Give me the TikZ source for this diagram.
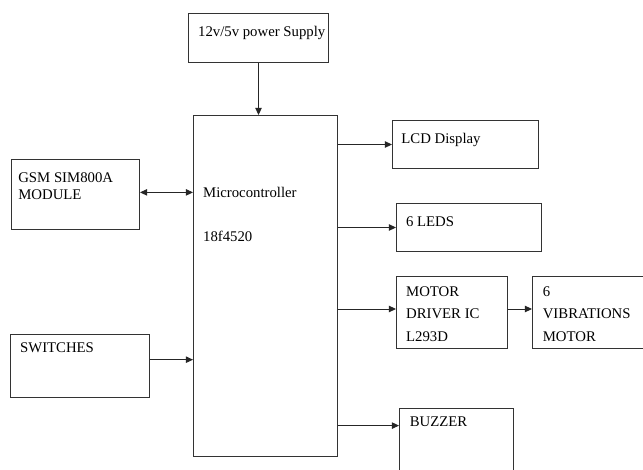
\documentclass[tikz,border=0pt]{standalone}
\usepackage{fontspec}
\setmainfont{Liberation Serif}
\usepackage{tikz}
\usetikzlibrary{positioning, calc, arrows.meta}

\begin{document}
\begin{tikzpicture}[
    x=0.025cm, y=-0.025cm,
    blk/.style={rectangle, draw=black!80, line width=0.7pt, anchor=north west,
                inner sep=0pt, fill=white},
    txt/.style={anchor=north west, inner sep=0pt, align=left,
                font=\fontsize{10.5}{12.2}\selectfont},
    arr/.style={draw=black!85, line width=0.7pt, -{Triangle[length=5pt,width=4.5pt]}},
  ]
    \clip (0,0) rectangle (643,469);
    \fill[white] (0,0) rectangle (643,469);

    % power and controller
    \node[blk, minimum width=3.5cm, minimum height=1.225cm] (pwr) at (188,13) {};
    \node[txt] (pwrtxt) at ([xshift=7pt,yshift=-9.5pt]pwr.north west) {12v/5v power Supply};

    \node[blk, minimum width=3.6cm, minimum height=8.525cm] (mcu) at (193,115) {};
    \node[txt] (mcutxt) at ([xshift=7pt,yshift=-51.5pt]mcu.north west) {Microcontroller\\[18.5pt]18f4520};

    % inputs
    \node[blk, minimum width=3.2cm, minimum height=1.75cm] (gsm) at (11,159) {};
    \node[txt] (gsmtxt) at ([xshift=5pt,yshift=-9.5pt]gsm.north west) {GSM SIM800A\\MODULE};

    \node[blk, minimum width=3.475cm, minimum height=1.575cm] (sw) at (10,334) {};
    \node[txt] (swtxt) at ([xshift=7pt,yshift=-6pt]sw.north west) {SWITCHES};

    % outputs
    \node[blk, minimum width=3.65cm, minimum height=1.2cm] (lcd) at (392,120) {};
    \node[txt] (lcdtxt) at ([xshift=6.5pt,yshift=-9pt]lcd.north west) {LCD Display};

    \node[blk, minimum width=3.625cm, minimum height=1.2cm] (leds) at (396,203) {};
    \node[txt] (ledstxt) at ([xshift=7pt,yshift=-9.5pt]leds.north west) {6 LEDS};

    \node[blk, minimum width=2.775cm, minimum height=1.8cm] (drv) at (396,276) {};
    \node[txt, font=\fontsize{10.5}{15.8}\selectfont] (drvtxt) at ([xshift=7pt,yshift=-7.5pt]drv.north west) {MOTOR\\DRIVER IC\\L293D};

    \node[blk, minimum width=2.95cm, minimum height=1.8cm] (vib) at (532,276) {};
    \node[txt, font=\fontsize{10.5}{15.8}\selectfont] (vibtxt) at ([xshift=7.5pt,yshift=-7.5pt]vib.north west) {6\\VIBRATIONS\\MOTOR};

    \node[blk, minimum width=2.85cm, minimum height=1.8cm] (buz) at (399,408) {};
    \node[txt] (buztxt) at ([xshift=7.5pt,yshift=-6pt]buz.north west) {BUZZER};

    % connections
    \draw[arr] (pwr.south) -- (pwr.south |- mcu.north);
    \draw[arr, {Triangle[length=5pt,width=4.5pt]}-{Triangle[length=5pt,width=4.5pt]}]
      ([yshift=1.5pt]gsm.east) -- ([yshift=1.5pt]gsm.east -| mcu.west);
    \draw[arr] ([yshift=4.5pt]sw.east) -- ([yshift=4.5pt]sw.east -| mcu.west);
    \draw[arr] (mcu.east |- lcd.west) -- (lcd.west);
    \draw[arr] (mcu.east |- leds.west) -- (leds.west);
    \draw[arr] ([yshift=2.5pt]mcu.east |- drv.west) -- ([yshift=2.5pt]drv.west);
    \draw[arr] ([yshift=2.5pt]drv.east) -- ([yshift=2.5pt]vib.west);
    \draw[arr] ([yshift=-12.5pt]mcu.east |- buz.north) -- ([yshift=-12.5pt]buz.north west);
  \end{tikzpicture}
\end{document}
